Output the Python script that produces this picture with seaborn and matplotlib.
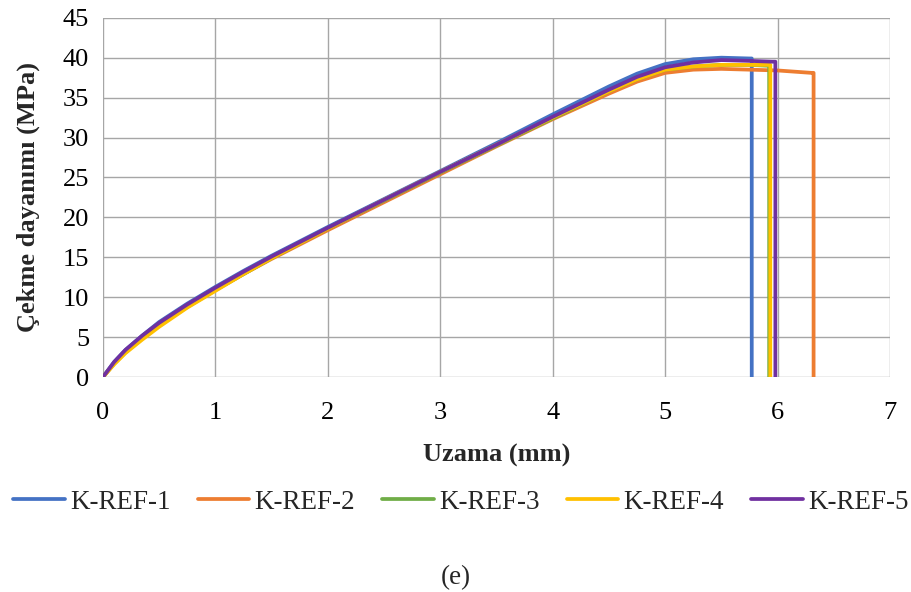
import matplotlib
matplotlib.use("Agg")
import matplotlib.pyplot as plt
import seaborn as sns
import pandas as pd

# Tensile test curves: elongation (mm) vs. tensile strength (MPa)
names = ["K-REF-1", "K-REF-2", "K-REF-3", "K-REF-4", "K-REF-5"]
colors = ["#4472C4", "#ED7D31", "#70AD47", "#FFC000", "#7030A0"]

ref1_x = [0, 0.1, 0.2, 0.35, 0.5, 0.75, 1.0, 1.25, 1.5, 2.0, 2.5, 3.0, 3.5, 4.0, 4.5, 4.75, 5.0, 5.25, 5.5, 5.75, 5.77, 5.77]
ref1_y = [0, 1.9, 3.4, 5.2, 6.9, 9.2, 11.3, 13.3, 15.2, 18.8, 22.3, 25.8, 29.3, 32.9, 36.4, 38.0, 39.2, 39.8, 40.0, 39.9, 39.9, 0]

ref2_x = [0, 0.1, 0.2, 0.35, 0.5, 0.75, 1.0, 1.25, 1.5, 2.0, 2.5, 3.0, 3.5, 4.0, 4.5, 4.75, 5.0, 5.25, 5.5, 5.75, 6.0, 6.3, 6.32, 6.32]
ref2_y = [0, 1.7, 3.1, 4.9, 6.5, 8.8, 10.9, 12.9, 14.8, 18.4, 21.9, 25.4, 28.9, 32.3, 35.5, 37.0, 38.1, 38.5, 38.6, 38.5, 38.4, 38.1, 38.1, 0]

ref3_x = [0, 0.1, 0.2, 0.35, 0.5, 0.75, 1.0, 1.25, 1.5, 2.0, 2.5, 3.0, 3.5, 4.0, 4.5, 4.75, 5.0, 5.25, 5.5, 5.75, 5.9, 5.925, 5.925]
ref3_y = [0, 1.7, 3.1, 4.9, 6.5, 8.8, 10.9, 12.9, 14.9, 18.6, 22.1, 25.6, 29.0, 32.4, 35.8, 37.3, 38.5, 38.9, 39.1, 39.1, 39.0, 39.0, 0]

ref4_x = [0, 0.1, 0.2, 0.35, 0.5, 0.75, 1.0, 1.25, 1.5, 2.0, 2.5, 3.0, 3.5, 4.0, 4.5, 4.75, 5.0, 5.25, 5.5, 5.75, 5.9, 5.935, 5.935]
ref4_y = [0, 1.6, 3.0, 4.7, 6.3, 8.7, 10.8, 12.9, 14.9, 18.6, 22.2, 25.7, 29.1, 32.5, 35.8, 37.3, 38.5, 38.9, 39.1, 39.1, 39.1, 39.1, 0]

ref5_x = [0, 0.1, 0.2, 0.35, 0.5, 0.75, 1.0, 1.25, 1.5, 2.0, 2.5, 3.0, 3.5, 4.0, 4.5, 4.75, 5.0, 5.25, 5.5, 5.75, 5.95, 5.98, 5.98]
ref5_y = [0, 1.9, 3.4, 5.2, 6.8, 9.1, 11.2, 13.2, 15.1, 18.7, 22.2, 25.7, 29.1, 32.6, 36.0, 37.6, 38.8, 39.4, 39.7, 39.6, 39.5, 39.5, 0]

series_x = [ref1_x, ref2_x, ref3_x, ref4_x, ref5_x]
series_y = [ref1_y, ref2_y, ref3_y, ref4_y, ref5_y]

x_ticks = [0, 1, 2, 3, 4, 5, 6, 7]
y_ticks = [0, 5, 10, 15, 20, 25, 30, 35, 40, 45]

sns.set_theme(style="whitegrid")
plt.rcParams["font.family"] = ["Liberation Serif", "DejaVu Serif"]

fig = plt.figure(figsize=(9.11, 5.92), dpi=100)
ax = fig.add_axes([0.113, 0.363, 0.864, 0.607])

for name, col, xs, ys in zip(names, colors, series_x, series_y):
    df = pd.DataFrame({"x": xs, "y": ys})
    sns.lineplot(data=df, x="x", y="y", ax=ax, color=col, linewidth=2.7,
                 sort=False, estimator=None, label=name)

ax.set_xlim(0, 7)
ax.set_ylim(0, 45)
ax.set_xticks(x_ticks)
ax.set_yticks(y_ticks)
ax.tick_params(axis="both", labelsize=19, length=0, colors="black")
ax.tick_params(axis="x", pad=18)
ax.tick_params(axis="y", pad=10)
ax.grid(True, color="#a6a6a6", linewidth=1.0)
for s in ax.spines.values():
    s.set_visible(False)
ax.set_facecolor("white")

ax.set_xlabel("Uzama (mm)", fontsize=19, fontweight="bold", labelpad=14)
ax.set_ylabel("Çekme dayanımı (MPa)", fontsize=19, fontweight="bold", labelpad=16)

ax.get_legend().remove()
handles, labels = ax.get_legend_handles_labels()
fig.legend(handles, labels, loc="center", bbox_to_anchor=(0.506, 0.152), ncol=5,
           frameon=False, fontsize=19.5, handlelength=1.9, handletextpad=0.2,
           columnspacing=1.0)

fig.text(0.5, 0.025, "(e)", ha="center", va="center", fontsize=19.5)

fig.savefig("out.png", dpi=100, facecolor="white")
